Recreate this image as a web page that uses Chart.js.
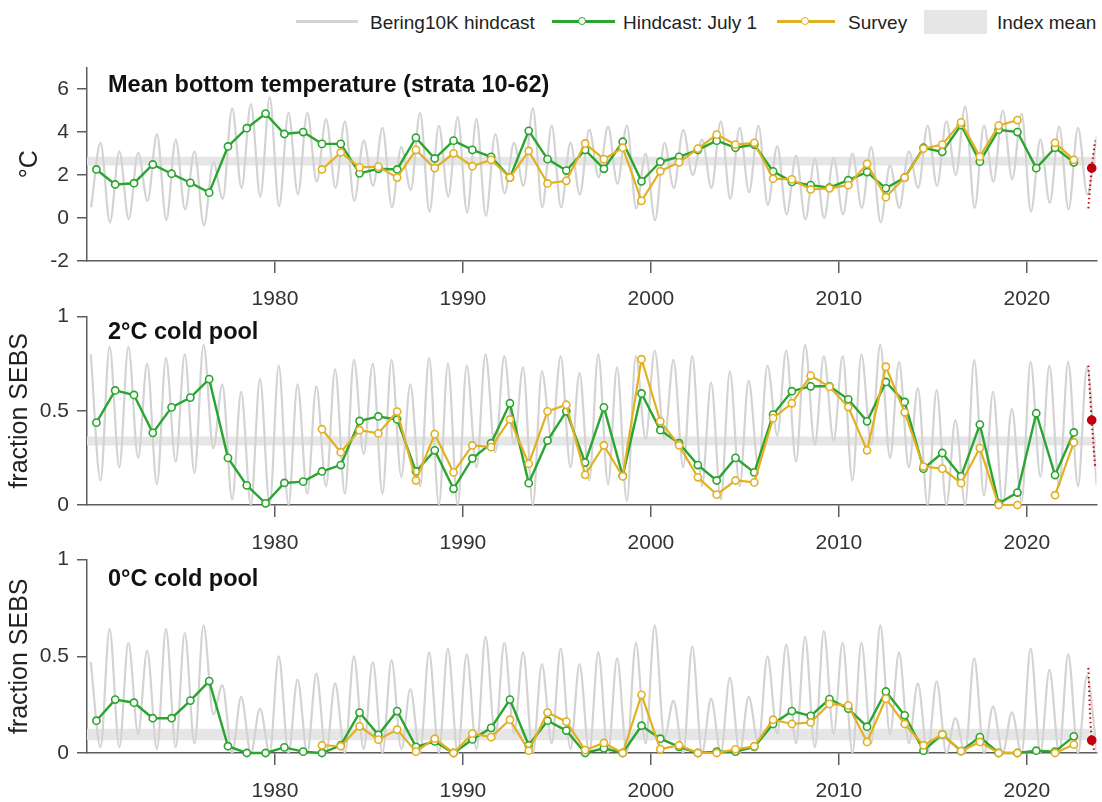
<!DOCTYPE html>
<html>
<head>
<meta charset="utf-8">
<script src="https://cdn.jsdelivr.net/npm/chart.js@4.4.1/dist/chart.umd.min.js"></script>
<style>
  html, body { margin: 0; padding: 0; background: #fff; }
  body { position: relative; width: 1102px; height: 802px; overflow: hidden; font-family: "Liberation Sans", Arial, sans-serif; }
  canvas { position: absolute; left: 0; }
  .ttl { position: absolute; left: 108px; font-weight: bold; font-size: 23.5px; line-height: 1; color: #111; white-space: nowrap; }
  .lg { position: absolute; top: 13px; font-size: 19px; line-height: 1; color: #222; white-space: nowrap; }
  .ln { position: absolute; top: 20px; height: 3px; }
  .dot { position: absolute; top: 17px; width: 6px; height: 6px; border-radius: 50%; background: #fff; border: 1.6px solid; }
</style>
</head>
<body>
  <!-- legend -->
  <div class="ln" style="left:296px;width:62px;background:#d4d4d4"></div>
  <div class="lg" style="left:370px">Bering10K hindcast</div>
  <div class="ln" style="left:552px;width:63px;background:#2aa52f"></div>
  <div class="dot" style="left:578px;border-color:#2aa52f"></div>
  <div class="lg" style="left:623px">Hindcast: July 1</div>
  <div class="ln" style="left:777px;width:58px;background:#e2b023"></div>
  <div class="dot" style="left:801px;border-color:#e2b023"></div>
  <div class="lg" style="left:848px">Survey</div>
  <div style="position:absolute;left:924px;top:10px;width:63px;height:24px;background:#e6e6e6"></div>
  <div class="lg" style="left:997px">Index mean</div>

  <canvas id="temp" width="1102" height="274" style="top:47px"></canvas>
  <canvas id="cp2" width="1102" height="269" style="top:296px"></canvas>
  <canvas id="cp0" width="1102" height="274" style="top:539px"></canvas>

  <div class="ttl" style="top:73px">Mean bottom temperature (strata 10-62)</div>
  <div class="ttl" style="top:320px">2°C cold pool</div>
  <div class="ttl" style="top:567px">0°C cold pool</div>

<script>
// ---- data ----
const hindcastYears = [];   // 1970..2023, Bering10K seasonal cycle
for (let y = 1970; y <= 2023; y++) hindcastYears.push(y);
const july1Years = hindcastYears.slice(0, 53);   // 1970..2022
const surveyYears = hindcastYears.slice(12, 53); // 1982..2022
const yearTicks = [1980, 1990, 2000, 2010, 2020];

// mean bottom temperature (deg C)
const tempJuly1 = [2.26, 1.56, 1.62, 2.49, 2.06, 1.64, 1.18, 3.33, 4.18, 4.86,
  3.91, 4.0, 3.45, 3.45, 2.08, 2.29, 2.26, 3.74, 2.77, 3.6,
  3.17, 2.85, 1.88, 4.06, 2.74, 2.21, 3.17, 2.29, 3.55, 1.71,
  2.62, 2.85, 3.17, 3.6, 3.27, 3.42, 2.17, 1.68, 1.53, 1.41,
  1.76, 2.14, 1.38, 1.88, 3.27, 3.08, 4.33, 2.62, 4.11, 4.0,
  2.32, 3.27, 2.59];
const tempSurvey = [2.26, 3.05, 2.36, 2.39, 1.88, 3.17, 2.32, 3.01,
  2.41, 2.71, 1.88, 3.12, 1.61, 1.73, 3.47, 2.74, 3.27, 0.8,
  2.18, 2.59, 3.23, 3.88, 3.42, 3.5, 1.83, 1.8, 1.33, 1.38,
  1.53, 2.52, 0.97, 1.88, 3.23, 3.42, 4.45, 2.86, 4.3, 4.56,
  null, 3.5, 2.71];
const tempHindLow = [0.5, -0.2, -0.05, 0.8, -0.1, 0.4, -0.35, 0.9, 1.4, 1.0,
  0.55, 1.1, 1.7, 1.4, 0.8, 1.5, 0.5, 1.3, 0.3, 1.0,
  0.25, 0.1, 1.15, 1.5, 0.5, 0.5, 1.1, 1.9, 1.6, 0.45,
  -0.1, 1.4, 2.0, 1.4, 0.9, 1.2, 0.6, 0.17, -0.06, 0.0,
  0.17, 0.47, -0.2, 0.47, 1.4, 1.5, 2.0, 0.47, 1.7, 1.8,
  0.3, 0.7, 0.4, 1.1];
const tempHindHigh = [3.5, 3.1, 3.05, 3.9, 3.65, 3.1, 2.6, 5.1, 5.3, 5.6,
  4.9, 4.9, 4.6, 4.5, 3.6, 4.2, 3.3, 4.9, 4.3, 4.7,
  4.6, 3.9, 3.5, 5.1, 4.3, 3.5, 4.1, 4.25, 4.3, 3.0,
  3.5, 4.1, 3.65, 4.5, 4.2, 4.3, 3.35, 2.9, 2.75, 2.8,
  3.0, 3.3, 2.45, 3.1, 4.3, 4.5, 5.2, 4.3, 5.0, 4.85,
  3.65, 4.25, 4.2, 3.8];
const tempMeanBand = [2.44, 2.85];
const tempForecast = [0.45, 2.32, 3.6];   // low, mean, high

// 2 deg C cold pool (fraction of SEBS)
const cp2July1 = [0.437, 0.608, 0.584, 0.383, 0.518, 0.57, 0.668, 0.25, 0.104, 0.009,
  0.117, 0.124, 0.178, 0.212, 0.446, 0.47, 0.454, 0.178, 0.29, 0.086,
  0.247, 0.328, 0.54, 0.116, 0.342, 0.497, 0.225, 0.518, 0.155, 0.592,
  0.397, 0.328, 0.212, 0.13, 0.25, 0.173, 0.48, 0.604, 0.63, 0.63,
  0.561, 0.444, 0.653, 0.547, 0.193, 0.276, 0.152, 0.427, 0.009, 0.066,
  0.487, 0.159, 0.385];
const cp2Survey = [0.402, 0.28, 0.397, 0.38, 0.496, 0.13, 0.376, 0.173,
  0.316, 0.307, 0.454, 0.219, 0.497, 0.532, 0.16, 0.316, 0.152, 0.774,
  0.444, 0.316, 0.147, 0.055, 0.13, 0.12, 0.461, 0.54, 0.687, 0.627,
  0.52, 0.29, 0.734, 0.492, 0.204, 0.193, 0.116, 0.302, 0.0, 0.0,
  null, 0.052, 0.332];
const cp2HindHigh = [0.8, 0.84, 0.84, 0.75, 0.78, 0.8, 0.85, 0.64, 0.6, 0.67,
  0.74, 0.64, 0.63, 0.72, 0.77, 0.75, 0.77, 0.64, 0.78, 0.75,
  0.74, 0.8, 0.79, 0.73, 0.71, 0.79, 0.7, 0.8, 0.73, 0.79,
  0.82, 0.77, 0.79, 0.65, 0.71, 0.66, 0.74, 0.82, 0.85, 0.79,
  0.79, 0.8, 0.85, 0.76, 0.62, 0.61, 0.45, 0.77, 0.6, 0.51,
  0.76, 0.74, 0.76, 0.73];
const cp2HindLow = [0.13, 0.2, 0.25, 0.11, 0.23, 0.17, 0.3, 0.03, 0.0, 0.0,
  0.0, 0.06, 0.1, 0.06, 0.27, 0.06, 0.15, 0.1, 0.0, 0.0,
  0.2, 0.28, 0.32, 0.0, 0.35, 0.2, 0.13, 0.11, 0.02, 0.35,
  0.35, 0.2, 0.1, 0.03, 0.1, 0.2, 0.37, 0.23, 0.32, 0.34,
  0.13, 0.32, 0.25, 0.2, 0.0, 0.0, 0.0, 0.05, 0.0, 0.02,
  0.15, 0.1, 0.1, 0.1];
const cp2MeanBand = [0.316, 0.363];
const cp2Forecast = [0.2, 0.45, 0.74];

// 0 deg C cold pool (fraction of SEBS)
const cp0July1 = [0.167, 0.276, 0.26, 0.18, 0.18, 0.271, 0.372, 0.035, 0.0, 0.0,
  0.029, 0.007, 0.0, 0.04, 0.209, 0.094, 0.217, 0.032, 0.06, 0.0,
  0.07, 0.13, 0.276, 0.04, 0.167, 0.116, 0.0, 0.024, 0.0, 0.141,
  0.074, 0.032, 0.0, 0.007, 0.007, 0.032, 0.15, 0.217, 0.192, 0.279,
  0.229, 0.136, 0.318, 0.195, 0.012, 0.096, 0.01, 0.082, 0.0, 0.0,
  0.012, 0.007, 0.086];
const cp0Survey = [0.04, 0.035, 0.138, 0.069, 0.121, 0.007, 0.074, 0.0,
  0.1, 0.082, 0.172, 0.012, 0.209, 0.162, 0.015, 0.052, 0.0, 0.301,
  0.02, 0.04, 0.0, 0.0, 0.019, 0.035, 0.172, 0.15, 0.158, 0.254,
  0.246, 0.057, 0.281, 0.15, 0.04, 0.096, 0.01, 0.057, 0.0, 0.0,
  null, 0.0, 0.044];
const cp0HindHigh = [0.47, 0.64, 0.57, 0.53, 0.64, 0.62, 0.66, 0.35, 0.29, 0.23,
  0.5, 0.38, 0.41, 0.36, 0.5, 0.47, 0.48, 0.33, 0.52, 0.54,
  0.51, 0.6, 0.57, 0.52, 0.46, 0.54, 0.46, 0.52, 0.49, 0.57,
  0.66, 0.27, 0.55, 0.28, 0.39, 0.29, 0.5, 0.56, 0.6, 0.63,
  0.57, 0.57, 0.66, 0.52, 0.36, 0.37, 0.18, 0.49, 0.24, 0.21,
  0.54, 0.43, 0.51, 0.4];
const cp0HindLow = [0.03, 0.03, 0.1, 0.02, 0.03, 0.05, 0.2, 0.0, 0.0, 0.0,
  0.0, 0.0, 0.0, 0.0, 0.02, 0.0, 0.02, 0.0, 0.0, 0.0,
  0.02, 0.08, 0.1, 0.0, 0.05, 0.02, 0.0, 0.0, 0.0, 0.05,
  0.08, 0.0, 0.0, 0.0, 0.0, 0.05, 0.1, 0.05, 0.03, 0.1,
  0.0, 0.05, 0.1, 0.05, 0.0, 0.0, 0.0, 0.0, 0.0, 0.0,
  0.0, 0.0, 0.0, 0.0];
const cp0MeanBand = [0.066, 0.126];
const cp0Forecast = [0.0, 0.066, 0.44];

// timing within the year (fraction of year)
const JULY1 = 0.5;
const forecastTime = [2023.27, 2023.45, 2023.63];

// ---- styling ----
const FONT = '"Liberation Sans", Arial, sans-serif';
const GREEN = '#2aa52f';
const GOLD = '#e2b023';
const GRAY = '#d3d3d3';
const RED = '#c0000f';
const AXIS = '#5c5c5c';

const toPts = (years, vals, off) => years.map((yr, i) => ({ x: yr + off, y: vals[i] }));

// seasonal hindcast: two extremes per year at their typical time of year
function seasonal(first, firstOff, second, secondOff) {
  const pts = [];
  hindcastYears.forEach((yr, i) => {
    pts.push({ x: yr + firstOff, y: first[i] });
    pts.push({ x: yr + secondOff, y: second[i] });
  });
  return pts;
}

function makePanel(id, p) {
  // forecast spread drawn as a dotted bracket, mean as a dot
  const fc = p.fcFlip
    ? [{ x: forecastTime[0], y: p.forecast[2] }, { x: forecastTime[1], y: p.forecast[1] }, { x: forecastTime[2], y: p.forecast[0] }]
    : [{ x: forecastTime[0], y: p.forecast[0] }, { x: forecastTime[1], y: p.forecast[1] }, { x: forecastTime[2], y: p.forecast[2] }];

  new Chart(document.getElementById(id), {
    type: 'line',
    data: {
      datasets: [
        { label: 'forecast', data: fc, borderColor: RED, borderWidth: 2, borderDash: [1.5, 3],
          pointRadius: [0, 3.8, 0], pointBackgroundColor: RED, pointBorderColor: RED, tension: 0.4, clip: false, order: 0 },
        { label: 'Survey', data: toPts(surveyYears, p.survey, JULY1), borderColor: GOLD, borderWidth: 2.2,
          pointRadius: 3.6, pointBorderWidth: 1.6, pointBackgroundColor: '#fff', pointBorderColor: GOLD, clip: false, order: 1 },
        { label: 'Hindcast: July 1', data: toPts(july1Years, p.july1, JULY1), borderColor: GREEN, borderWidth: 2.4,
          pointRadius: 3.6, pointBorderWidth: 1.6, pointBackgroundColor: '#fff', pointBorderColor: GREEN, clip: false, order: 2 },
        { label: 'Bering10K hindcast', data: p.hind, borderColor: GRAY, borderWidth: 2.2, pointRadius: 0,
          cubicInterpolationMode: 'monotone', order: 3 },
        { label: 'Index mean', data: [{ x: 1970, y: p.band[1] }, { x: 2023.7, y: p.band[1] }], borderWidth: 0, pointRadius: 0,
          fill: { value: p.band[0] }, backgroundColor: '#e6e6e6', order: 4 }
      ]
    },
    options: {
      responsive: false,
      animation: false,
      events: [],
      devicePixelRatio: 1,
      layout: { padding: { top: 16, left: 0, right: 0, bottom: 0 } },
      plugins: { legend: { display: false }, tooltip: { enabled: false } },
      scales: {
        x: {
          type: 'linear', min: 1970, max: 2023.7,
          afterBuildTicks: s => { s.ticks = yearTicks.map(v => ({ value: v })); },
          afterFit: s => { s.height = 60; },
          border: { color: AXIS, width: 1.5 },
          grid: { drawOnChartArea: false, drawTicks: true, tickLength: 12, color: AXIS, lineWidth: 1.5 },
          ticks: { font: { family: FONT, size: 21 }, color: '#333', padding: 14, maxRotation: 0, callback: v => String(v) }
        },
        y: {
          min: p.yMin, max: p.yMax,
          afterBuildTicks: s => { s.ticks = p.yTicks.map(v => ({ value: v })); },
          afterFit: s => { s.width = 87; },
          border: { color: AXIS, width: 1.5 },
          grid: { drawOnChartArea: false, drawTicks: true, tickLength: 10, color: AXIS, lineWidth: 1.5 },
          ticks: { font: { family: FONT, size: 21 }, color: '#333', padding: 8, callback: v => String(v) },
          title: { display: true, text: p.yTitle, font: { family: FONT, size: 25 }, color: '#222', padding: { top: p.titlePad, bottom: 0 } }
        }
      }
    }
  });
}

makePanel('temp', {
  july1: tempJuly1, survey: tempSurvey, band: tempMeanBand, forecast: tempForecast, fcFlip: false,
  hind: seasonal(tempHindLow, 0.22, tempHindHigh, 0.72),
  yMin: -2, yMax: 7, yTicks: [-2, 0, 2, 4, 6], yTitle: '°C', titlePad: 15
});
makePanel('cp2', {
  july1: cp2July1, survey: cp2Survey, band: cp2MeanBand, forecast: cp2Forecast, fcFlip: true,
  hind: seasonal(cp2HindHigh, 0.2, cp2HindLow, 0.72),
  yMin: 0, yMax: 1, yTicks: [0, 0.5, 1], yTitle: 'fraction SEBS', titlePad: 5
});
makePanel('cp0', {
  july1: cp0July1, survey: cp0Survey, band: cp0MeanBand, forecast: cp0Forecast, fcFlip: true,
  hind: seasonal(cp0HindHigh, 0.2, cp0HindLow, 0.72),
  yMin: 0, yMax: 1, yTicks: [0, 0.5, 1], yTitle: 'fraction SEBS', titlePad: 5
});
</script>
</body>
</html>
